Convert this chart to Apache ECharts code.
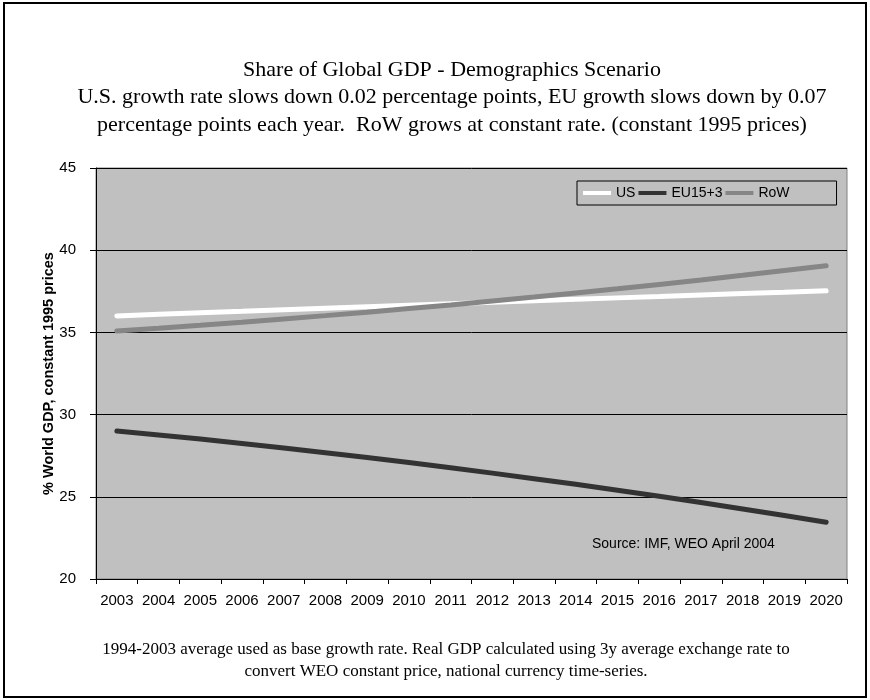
<!DOCTYPE html>
<html>
<head>
<meta charset="utf-8">
<script src="https://cdn.jsdelivr.net/npm/echarts@6/dist/echarts.min.js"></script>
<style>
  html, body { margin: 0; padding: 0; background: #ffffff; }
  #chart { width: 870px; height: 700px; }
</style>
</head>
<body>
<div id="chart"></div>
<script>
// Years on the horizontal axis
const years = ['2003','2004','2005','2006','2007','2008','2009','2010','2011',
               '2012','2013','2014','2015','2016','2017','2018','2019','2020'];

// Share of world GDP (%), constant 1995 prices
const usShare  = [36.00, 36.10, 36.19, 36.28, 36.38, 36.47, 36.56, 36.65, 36.74,
                  36.83, 36.92, 37.01, 37.10, 37.18, 37.27, 37.36, 37.44, 37.53];
const euShare  = [29.00, 28.76, 28.51, 28.24, 27.97, 27.68, 27.39, 27.08, 26.77,
                  26.44, 26.10, 25.76, 25.40, 25.03, 24.65, 24.26, 23.86, 23.45];
const rowShare = [35.08, 35.25, 35.43, 35.62, 35.82, 36.02, 36.23, 36.45, 36.67,
                  36.91, 37.15, 37.40, 37.65, 37.92, 38.19, 38.47, 38.76, 39.05];

// Value axis ticks
const yTicks = [20, 25, 30, 35, 40, 45];

const titleLines = [
  'Share of Global GDP - Demographics Scenario',
  'U.S. growth rate slows down 0.02 percentage points, EU growth slows down by 0.07',
  'percentage points each year.  RoW grows at constant rate. (constant 1995 prices)'
];
const footLines = [
  '1994-2003 average used as base growth rate. Real GDP calculated using 3y average exchange rate to',
  'convert WEO constant price, national currency time-series.'
];

const serif = '"Liberation Serif", "DejaVu Serif", serif';
const sans = '"Liberation Sans", Arial, sans-serif';

const chart = echarts.init(document.getElementById('chart'), null, { renderer: 'canvas' });

// centred text lines (heading above the plot, notes below it)
const titleY = [70, 97, 125];
const footY = [650, 672];
const textLines = titleLines.map((t, i) => ({
  type: 'text', x: 452, y: titleY[i], silent: true,
  style: { text: t, textAlign: 'center', textVerticalAlign: 'middle',
           font: '22px ' + serif, fill: '#000' }
})).concat(footLines.map((t, i) => ({
  type: 'text', x: 446, y: footY[i], silent: true,
  style: { text: t, textAlign: 'center', textVerticalAlign: 'middle',
           font: '17px ' + serif, fill: '#000' }
})));

chart.setOption({
  backgroundColor: '#ffffff',
  animation: false,
  grid: {
    left: 96, right: 23, top: 168, bottom: 121,
    show: true, backgroundColor: '#c0c0c0', borderColor: '#808080', borderWidth: 1
  },
  legend: {
    left: 577, top: 181,
    padding: [5, 47, 5, 6],
    itemGap: 3, itemWidth: 28, itemHeight: 4,
    icon: 'rect',
    backgroundColor: '#c0c0c0', borderColor: '#000', borderWidth: 1,
    textStyle: { fontFamily: sans, fontSize: 14, color: '#000', padding: [1, 0, 0, 0] },
    data: ['US', 'EU15+3', 'RoW']
  },
  xAxis: {
    type: 'category', data: years, boundaryGap: true,
    axisLine: { lineStyle: { color: '#000', width: 1 } },
    axisTick: { show: true, interval: 0, length: 5, lineStyle: { color: '#000' } },
    axisLabel: { interval: 0, margin: 14, fontFamily: sans, fontSize: 15, color: '#000' },
    splitLine: { show: false }
  },
  yAxis: {
    type: 'value', min: yTicks[0], max: yTicks[yTicks.length - 1], interval: 5,
    name: '% World GDP, constant 1995 prices',
    nameLocation: 'middle', nameGap: 40, nameMoveOverlap: false,
    nameTextStyle: { fontFamily: sans, fontSize: 14.5, fontWeight: 'bold', color: '#000' },
    axisLine: { show: true, lineStyle: { color: '#000', width: 1 } },
    axisTick: { show: true, length: 6, lineStyle: { color: '#000' } },
    axisLabel: { margin: 20, fontFamily: sans, fontSize: 15, color: '#000' },
    splitLine: { show: true, lineStyle: { color: '#000', width: 1 } }
  },
  series: [
    { name: 'US', type: 'line', data: usShare, symbol: 'none',
      lineStyle: { color: '#ffffff', width: 5, cap: 'round' }, itemStyle: { color: '#ffffff' } },
    { name: 'EU15+3', type: 'line', data: euShare, symbol: 'none',
      lineStyle: { color: '#333333', width: 5, cap: 'round' }, itemStyle: { color: '#333333' } },
    { name: 'RoW', type: 'line', data: rowShare, symbol: 'none',
      lineStyle: { color: '#868686', width: 5, cap: 'round' }, itemStyle: { color: '#868686' } }
  ],
  graphic: [
    { type: 'rect', shape: { x: 4, y: 3, width: 862, height: 694 },
      style: { fill: 'none', stroke: '#000', lineWidth: 2 }, silent: true },
    { type: 'text', left: 592, top: 537, silent: true,
      style: { text: 'Source: IMF, WEO April 2004', font: '14px ' + sans, fill: '#000' } }
  ].concat(textLines)
});
</script>
</body>
</html>
